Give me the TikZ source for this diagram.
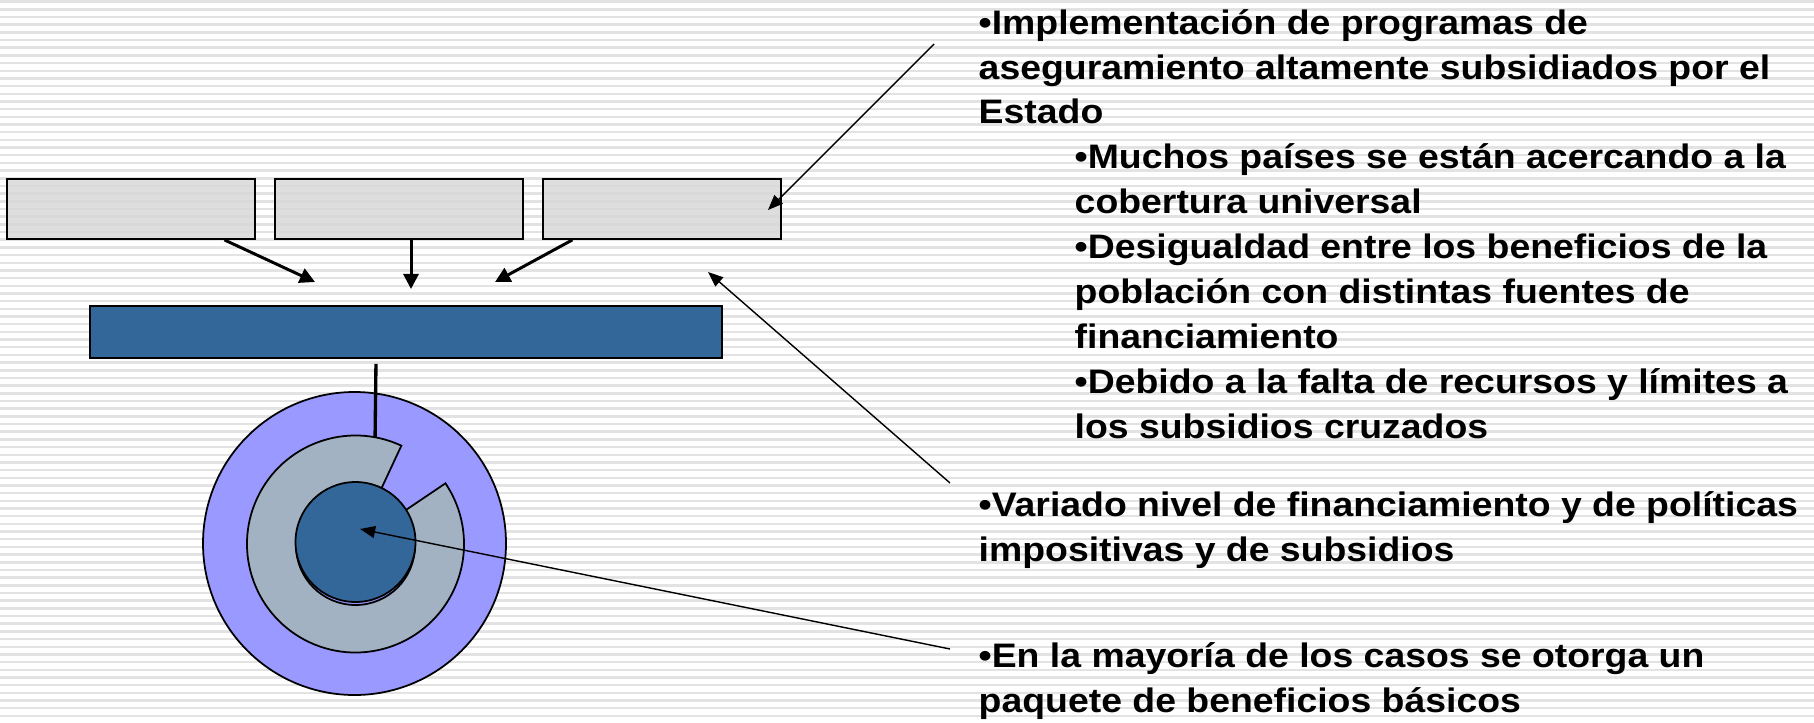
\documentclass[tikz,border=0pt]{standalone}
\usepackage{fontspec}
\newfontfamily\notefont{Liberation Sans}[FakeStretch=1.1]
\usetikzlibrary{positioning, arrows.meta}
\definecolor{boxgray}{HTML}{D8D8D8}
\definecolor{barblue}{HTML}{336699}
\definecolor{ringblue}{HTML}{9999FF}
\definecolor{ringgray}{HTML}{A3B2C2}
\definecolor{stripe}{HTML}{E3E3E3}
\tikzset{
  level/.style={
    rectangle,
    draw=black, line width=0.55pt,
    fill=boxgray, fill opacity=0.85,
    minimum width=2.48cm,
    minimum height=0.6cm,
    inner sep=0pt
  },
  note/.style={
    anchor=base west,
    inner sep=0pt,
    align=left,
    font=\notefont\bfseries\fontsize{9.67pt}{12.8pt}\selectfont
  },
  disc/.style={
    circle,
    draw=black, line width=0.5pt,
    inner sep=0pt
  },
  arrow/.style={
    draw=black,
    line width=0.85pt,
    -{Triangle[length=4.3pt,width=4.3pt]}
  },
  pointer/.style={
    draw=black,
    line width=0.4pt,
    -{Triangle[length=4.3pt,width=3.4pt]}
  }
}

\begin{document}
\begin{tikzpicture}
\useasboundingbox (0,0) rectangle (18.14,-7.22);
% background
\foreach \k in {0,...,93}
  \fill[stripe] (0,-0.004-0.0768*\k) rectangle (18.14,-0.029-0.0768*\k);

% nodes
\node[level, anchor=north west] (b1) at (0.06,-1.78) {};
\node[level, right = 0.18cm of b1] (b2) {};
\node[level, right = 0.18cm of b2, minimum width=2.38cm] (b3) {};

\node[rectangle, draw=black, line width=0.55pt, fill=barblue,
      minimum width=6.32cm, minimum height=0.52cm,
      anchor=north west] (bar) at (0.89,-3.05) {};

\coordinate (hub) at (3.555,-5.44);
\node[disc, fill=ringblue, minimum size=3.03cm] (outer) at (3.545,-5.435) {};
\filldraw[draw=black, line width=0.5pt, fill=ringgray]
  (hub) -- ++(65:1.085) arc[start angle=65, end angle=394, radius=1.085] -- cycle;
\node[disc, fill=ringblue, minimum size=1.19cm] (rim) at (3.555,-5.455) {};
\node[disc, fill=barblue, minimum size=1.2cm] (core) at (3.555,-5.42) {};

% texts (base = last line)
\node[note] (n1) at (9.78,-1.24)
{•Implementación de programas de\\
 aseguramiento altamente subsidiados por el\\
 Estado};
\node[note] (n2) at (10.74,-4.38)
{•Muchos países se están acercando a la\\
 cobertura universal\\
 •Desigualdad entre los beneficios de la\\
 población con distintas fuentes de\\
 financiamiento\\
 •Debido a la falta de recursos y límites a\\
 los subsidios cruzados};
\node[note] (n3) at (9.78,-5.61)
{•Variado nivel de financiamiento y de políticas\\
 impositivas y de subsidios};
\node[note] (n4) at (9.78,-7.12)
{•En la mayoría de los casos se otorga un\\
 paquete de beneficios básicos};

\coordinate (a1) at (3.15,-2.82);
\coordinate (a2) at (4.11,-2.89);
\coordinate (a3) at (4.95,-2.82);
\coordinate (p1) at (9.34,-0.44);
\coordinate (p2) at (9.50,-4.83);
\coordinate (p3) at (9.50,-6.49);
\coordinate (e1) at (7.68,-2.10);
\coordinate (e2) at (7.08,-2.72);
\coordinate (e3) at (3.60,-5.29);

% edges
\draw [arrow] ([xshift=0.935cm]b1.south) -- (a1);
\draw [arrow] (b2.south -| a2) -- (a2);
\draw [arrow] ([xshift=-0.895cm]b3.south) -- (a3);
\draw [line width=0.95pt] ([xshift=-0.30cm, yshift=-0.05cm]bar.south)
  -- ([shift={(79.6:1.085)}]hub);

\draw [pointer] (p1) -- (e1);
\draw [pointer] (p2) -- (e2);
\draw [pointer] (p3) -- (e3);

\end{tikzpicture}
\end{document}
